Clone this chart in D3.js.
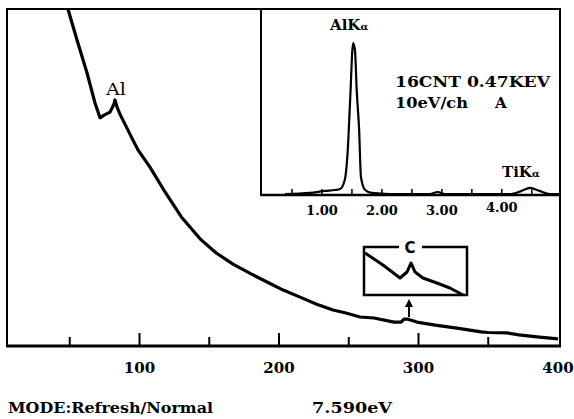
<!DOCTYPE html>
<html><head><meta charset="utf-8">
<script src="https://cdn.jsdelivr.net/npm/d3@7"></script>
<style>body{margin:0;background:#fff}svg{display:block}text{font-family:"DejaVu Serif",serif;font-weight:bold;fill:#000}</style>
</head><body><svg id="c" width="574" height="419"></svg>
<script>
// Main spectrum (energy eV, relative intensity)
const mainEnergy = [48.7,55.2,62.4,68.1,71.7,74.6,78.9,81.7,82.4,83.9,86.0,95.3,98.9,107.5,118.3,130,143.4,155,167.0,180,191.4,203,215.1,227,238.7,248,258.1,268.1,282.4,287.5,289.6,291.8,298.9,312,327.6,344.8,350,363.4,372,384.9,400];
const mainCounts = [100,90.8,81.0,72.1,67.7,68.5,69.4,71.8,73.0,70.9,68.8,61.1,58.2,53.1,45.7,38.3,31.8,27.6,24.3,21.4,19.0,16.6,14.5,12.4,10.7,9.8,8.6,8.3,7.1,7.1,8.0,8.0,7.1,6.2,5.3,4.2,4.0,3.9,3.3,2.7,2.1];
const mainTicks = [50,100,150,200,250,300,350];
const mainLabels = [100,200,300,400];
// Inset EDS spectrum (keV, counts)
const edsEnergy = [0.38,0.8,1.05,1.22,1.3,1.38,1.43,1.47,1.52,1.55,1.58,1.62,1.65,1.72,1.83,2.13,2.8,2.93,3.05,4.13,4.33,4.47,4.63,4.8,4.97];
const edsCounts = [0.5,1.1,2.2,2.7,3.2,8.1,24,51,81.7,78,56,35,9.7,2.7,1.1,0.5,0.5,1.6,0.5,0.5,2.2,3.8,2.2,0.5,0.5];
const edsTicks = [0.5,1,1.5,2,2.5,3,3.5,4,4.5];
const edsLabels = [1,2,3,4];
// Carbon edge magnified (eV, relative)
const cEnergy = [270.5,279.2,287.5,290.9,292.8,294.8,298.6,305.4,311.7,318.1];
const cCounts = [87.5,62.5,35.4,47.9,66.7,47.9,35.4,25,14.6,0];

const svg = d3.select("#c");
const x = d3.scaleLinear().domain([0,400]).range([0,558]);
const y = d3.scaleLinear().domain([0,100]).range([346,9]);
const L = 7, R = 560, T = 9, B = 346;

// frame
svg.append("path").attr("d",`M${L},${B}V${T}H${R}V${B}`).attr("fill","none").attr("stroke","#000").attr("stroke-width",2);
svg.append("line").attr("x1",L-1).attr("x2",R+1).attr("y1",B).attr("y2",B).attr("stroke","#000").attr("stroke-width",3);
// ticks
svg.selectAll(".mt").data(mainTicks).join("line")
  .attr("x1",d=>x(d)).attr("x2",d=>x(d)).attr("y1",B).attr("y2",d=>B-(d%100===0?13:9))
  .attr("stroke","#000").attr("stroke-width",2);
svg.selectAll(".ml").data(mainLabels).join("text")
  .attr("x",d=>x(d)).attr("y",373).attr("text-anchor","middle").attr("font-size",15).text(d=>d);

// main curve
svg.append("path").datum(mainEnergy.map((e,i)=>[e,mainCounts[i]]))
  .attr("d",d3.line().x(d=>x(d[0])).y(d=>y(d[1])))
  .attr("fill","none").attr("stroke","#000").attr("stroke-width",3.2).attr("stroke-linejoin","round");
svg.append("text").attr("x",106).attr("y",95).attr("font-size",16).attr("textLength",20).attr("lengthAdjust","spacingAndGlyphs").style("font-weight","normal").text("Al");

// inset
const ix = d3.scaleLinear().domain([0,4.97]).range([262,560]);
const iy = d3.scaleLinear().domain([0,100]).range([195,9]);
svg.append("rect").attr("x",261).attr("y",T).attr("width",R-261).attr("height",195-T).attr("fill","#fff").attr("stroke","#000").attr("stroke-width",2);
svg.append("line").attr("x1",260).attr("x2",R).attr("y1",195).attr("y2",195).attr("stroke","#000").attr("stroke-width",2.5);
svg.selectAll(".it").data(edsTicks).join("line")
  .attr("x1",d=>ix(d)).attr("x2",d=>ix(d)).attr("y1",195).attr("y2",189).attr("stroke","#000").attr("stroke-width",1.5);
svg.selectAll(".il").data(edsLabels).join("text")
  .attr("x",d=>ix(d)).attr("y",(d,i)=>i===3?212:215).attr("text-anchor","middle").attr("font-size",13).text(d=>d.toFixed(2));
svg.append("path").datum(edsEnergy.map((e,i)=>[e,edsCounts[i]]))
  .attr("d",d3.line().x(d=>ix(d[0])).y(d=>iy(d[1])).curve(d3.curveMonotoneX))
  .attr("fill","none").attr("stroke","#000").attr("stroke-width",2.2);
const ak = svg.append("text").attr("x",330).attr("y",30).attr("font-size",15);
ak.append("tspan").text("AlK"); ak.append("tspan").attr("font-size",10).text("α");
const tk = svg.append("text").attr("x",502).attr("y",177).attr("font-size",15);
tk.append("tspan").text("TiK"); tk.append("tspan").attr("font-size",10).text("α");
svg.append("text").attr("x",395).attr("y",87).attr("font-size",15).attr("textLength",155).attr("lengthAdjust","spacingAndGlyphs").text("16CNT 0.47KEV");
svg.append("text").attr("x",395).attr("y",108).attr("font-size",15).attr("textLength",73).attr("lengthAdjust","spacingAndGlyphs").text("10eV/ch");
svg.append("text").attr("x",495).attr("y",108).attr("font-size",15).text("A");

// carbon magnified box
const cx = d3.scaleLinear().domain([270,320]).range([364,467]);
const cy = d3.scaleLinear().domain([0,100]).range([295,247]);
svg.append("path").attr("d",`M399,247H364V295H467V247H422`).attr("fill","none").attr("stroke","#000").attr("stroke-width",2.5);
svg.append("text").attr("x",410).attr("y",253).attr("text-anchor","middle").attr("font-size",15)
  .style("font-family","'DejaVu Sans',sans-serif").text("C");
svg.append("path").datum(cEnergy.map((e,i)=>[e,cCounts[i]]))
  .attr("d",d3.line().x(d=>cx(d[0])).y(d=>cy(d[1])))
  .attr("fill","none").attr("stroke","#000").attr("stroke-width",3).attr("stroke-linejoin","round");
// arrow
svg.append("line").attr("x1",409).attr("x2",409).attr("y1",317).attr("y2",304).attr("stroke","#000").attr("stroke-width",2);
svg.append("path").attr("d","M409,299L405,307H413Z").attr("fill","#000");

// footer
svg.append("text").attr("x",8).attr("y",413).attr("font-size",15).attr("textLength",205).attr("lengthAdjust","spacingAndGlyphs").text("MODE:Refresh/Normal");
svg.append("text").attr("x",312).attr("y",413).attr("font-size",15).attr("textLength",80).attr("lengthAdjust","spacingAndGlyphs").text("7.590eV");
</script></body></html>
